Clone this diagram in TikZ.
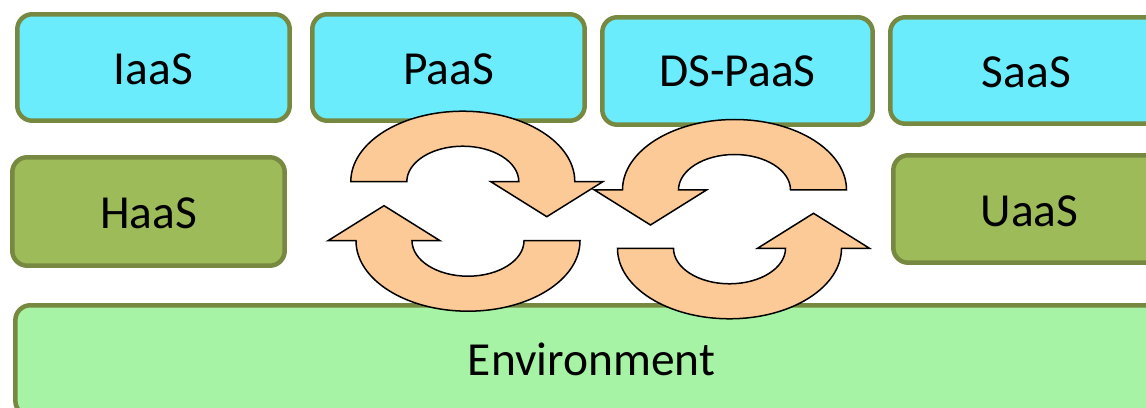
\documentclass[tikz,border=0pt]{standalone}
\usepackage{fontspec}
\setmainfont{Carlito}
\usetikzlibrary{calc}
\definecolor{boxline}{HTML}{778940}
\definecolor{cyanfill}{HTML}{6AECFC}
\definecolor{olivefill}{HTML}{9EBB59}
\definecolor{envfill}{HTML}{A6F3A6}
\definecolor{peach}{HTML}{FCCA96}
\begin{document}
\begin{tikzpicture}[x=0.02cm,y=-0.02cm,
  box/.style={draw=boxline, line width=0.09cm, rounded corners=0.3cm,
    font=\fontsize{27}{32}\selectfont, inner sep=0pt, outer sep=0pt,
    text height=0.7cm, text depth=0pt,
    minimum width=5.45cm, minimum height=2.13cm},
  topbox/.style={box, fill=cyanfill},
  midbox/.style={box, fill=olivefill},
  envbox/.style={box, fill=envfill},
  cyc/.style={draw=black, fill=peach, line width=0.03cm, line join=miter}]
\useasboundingbox (0,0) rectangle (1146,408);

\node[topbox] (iaas) at (153.5,67.5) {IaaS};
\node[topbox] (paas) at (448.5,67.5) {PaaS};
\node[topbox, minimum width=5.41cm, minimum height=2.15cm, text height=0.64cm] (dspaas) at (737.5,71) {DS-PaaS};
\node[topbox] (saas) at (1026.5,70.5) {SaaS};
\node[midbox, minimum height=2.17cm] (haas) at (148.5,211.5) {HaaS};
\node[midbox, minimum height=2.15cm] (uaas) at (1029.5,209) {UaaS};
\node[envbox, minimum width=23.05cm, minimum height=2.21cm, text height=0.62cm] (env) at (591.5,360.5) {Environment};

% top-left cycle arrow (head on right, pointing down)
\coordinate (c1) at (462.8,181.7);
\draw[cyc] ($(c1)+(-112,0)$) arc[start angle=180, end angle=360, x radius=112, y radius=70.5]
  -- ($(c1)+(140,0)$) -- ($(c1)+(84,35)$) -- ($(c1)+(28,0)$) -- ($(c1)+(56,0)$)
  arc[start angle=360, end angle=180, x radius=56, y radius=35.5] -- cycle;

% bottom-left cycle arrow (head on left, pointing up)
\coordinate (c2) at (468,240.7);
\draw[cyc] ($(c2)+(-140,0)$) -- ($(c2)+(-84,-35)$) -- ($(c2)+(-28,0)$) -- ($(c2)+(-56,0)$)
  arc[start angle=180, end angle=0, x radius=56, y radius=35.5]
  -- ($(c2)+(112,0)$)
  arc[start angle=0, end angle=180, x radius=112, y radius=70.5] -- cycle;

% top-right cycle arrow (head on left, pointing down)
\coordinate (c3) at (734.5,190);
\draw[cyc] ($(c3)+(112,0)$) arc[start angle=0, end angle=-180, x radius=112, y radius=70.5]
  -- ($(c3)+(-140,0)$) -- ($(c3)+(-84,35)$) -- ($(c3)+(-28,0)$) -- ($(c3)+(-56,0)$)
  arc[start angle=180, end angle=360, x radius=56, y radius=35.5] -- cycle;

% bottom-right cycle arrow (head on right, pointing up)
\coordinate (c4) at (729.5,248.3);
\draw[cyc] ($(c4)+(-112,0)$) -- ($(c4)+(-56,0)$)
  arc[start angle=180, end angle=0, x radius=56, y radius=35.5]
  -- ($(c4)+(28,0)$) -- ($(c4)+(84,-35)$) -- ($(c4)+(140,0)$) -- ($(c4)+(112,0)$)
  arc[start angle=0, end angle=180, x radius=112, y radius=70.5] -- cycle;
\end{tikzpicture}
\end{document}
